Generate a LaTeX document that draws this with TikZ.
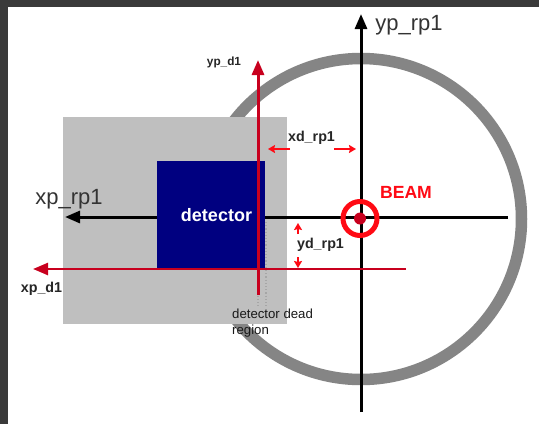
\documentclass[tikz,border=0pt]{standalone}
\usepackage{fontspec}
\setmainfont{Liberation Sans}
\usepackage{xcolor}
\usetikzlibrary{arrows.meta, positioning}
\definecolor{framedark}{HTML}{3A3A3A}
\definecolor{ringgray}{HTML}{858585}
\definecolor{plategray}{HTML}{BFBFBF}
\definecolor{detnavy}{HTML}{000080}
\definecolor{axisred}{HTML}{C8001E}
\definecolor{beamred}{HTML}{FF0A14}

\begin{document}
\begin{tikzpicture}[
  x=1pt, y=-1pt,
  axis/.style={-{Triangle[length=15pt, width=12pt]}, line width=3pt, black},
  redaxis/.style={-{Triangle[length=15pt, width=12pt]}, line width=3pt, axisred},
  offset/.style={-{Stealth[length=7pt, width=8pt, inset=1pt]}, line width=2.2pt, beamred},
  deadline/.style={line width=1.2pt, gray!70, dotted},
  bigtext/.style={font=\fontsize{22}{25}\selectfont, text=black!80, inner sep=0pt},
  smalltext/.style={font=\fontsize{14.3}{17}\selectfont\bfseries, text=black!85, inner sep=0pt},
]
  \useasboundingbox (0,0) rectangle (539,424);
  % Frame
  \fill[framedark] (0,0) rectangle (539,424);
  \fill[white] (8,7) rectangle (539,424);

  % Ring and plates
  \node (ring) [circle, draw=ringgray, line width=11.5pt, minimum size=321pt, inner sep=0pt] at (361,219) {};
  \node (plate) [fill=plategray, minimum width=224pt, minimum height=207pt, inner sep=0pt] at (175,220.5) {};

  % Beam axes
  \coordinate (xrpend) at (508,217);
  \coordinate (xrptip) at (65,217);
  \coordinate (yrpend) at (361,412);
  \coordinate (yrptip) at (361,14);
  \draw[axis] (xrpend) -- (xrptip);
  \node (detector) [fill=detnavy, minimum width=108pt, minimum height=108pt, inner sep=0pt] at (211,215) {};
  \draw[axis] (yrpend) -- (yrptip);

  % Dead region
  \coordinate (deadatop) at (258,270);
  \coordinate (deadabot) at (258,306);
  \coordinate (deadbtop) at (266,222);
  \coordinate (deadbbot) at (266,306);
  \draw[deadline] (deadatop) -- (deadabot);
  \draw[deadline] (deadbtop) -- (deadbbot);

  % Detector axes
  \coordinate (xdend) at (406,269);
  \coordinate (xdtip) at (33,269);
  \coordinate (ydend) at (258,295);
  \coordinate (ydtip) at (258,60);
  \draw[redaxis, line width=2.4pt] (xdend) -- (xdtip);
  \draw[redaxis] (ydend) -- (ydtip);

  % Beam
  \node (beam) [circle, draw=beamred, line width=5pt, minimum size=34pt, inner sep=0pt] at (360,218.5) {};
  \node (beamdot) [circle, fill=axisred, minimum size=12pt, inner sep=0pt] at (360,218.5) {};

  % Offsets
  \coordinate (xdla) at (290,149);
  \coordinate (xdlb) at (268,149);
  \coordinate (xdra) at (334,149);
  \coordinate (xdrb) at (356,149);
  \coordinate (ydua) at (298,234);
  \coordinate (ydub) at (298,223);
  \coordinate (ydla) at (298,257);
  \coordinate (ydlb) at (298,268);
  \draw[offset] (xdla) -- (xdlb);
  \draw[offset] (xdra) -- (xdrb);
  \draw[offset] (ydua) -- (ydub);
  \draw[offset] (ydla) -- (ydlb);

  % Labels
  \node (xrplabel) [bigtext] at (69,199) {xp\_rp1};
  \node (yrplabel) [bigtext] at (409,25) {yp\_rp1};
  \node (ydlabel) [smalltext, font=\fontsize{11.8}{14}\selectfont\bfseries] at (224,62) {yp\_d1};
  \node (xdlabel) [smalltext] at (41.5,289) {xp\_d1};
  \node (xdrplabel) [smalltext] at (311.5,138) {xd\_rp1};
  \node (ydrplabel) [smalltext] at (320.5,245) {yd\_rp1};
  \node (deadlabel) [inner sep=0pt, align=left, anchor=north west, text=black!90,
    font=\fontsize{13.2}{16}\selectfont] at (232,308.5) {detector dead\\region};
  \node (detlabel) [inner sep=0pt, text=white, font=\fontsize{18}{20}\selectfont\bfseries] at (216.5,215) {detector};
  \node (beamlabel) [inner sep=0pt, text=beamred, font=\fontsize{17.6}{20}\selectfont\bfseries] at (406,192) {BEAM};
\end{tikzpicture}
\end{document}
